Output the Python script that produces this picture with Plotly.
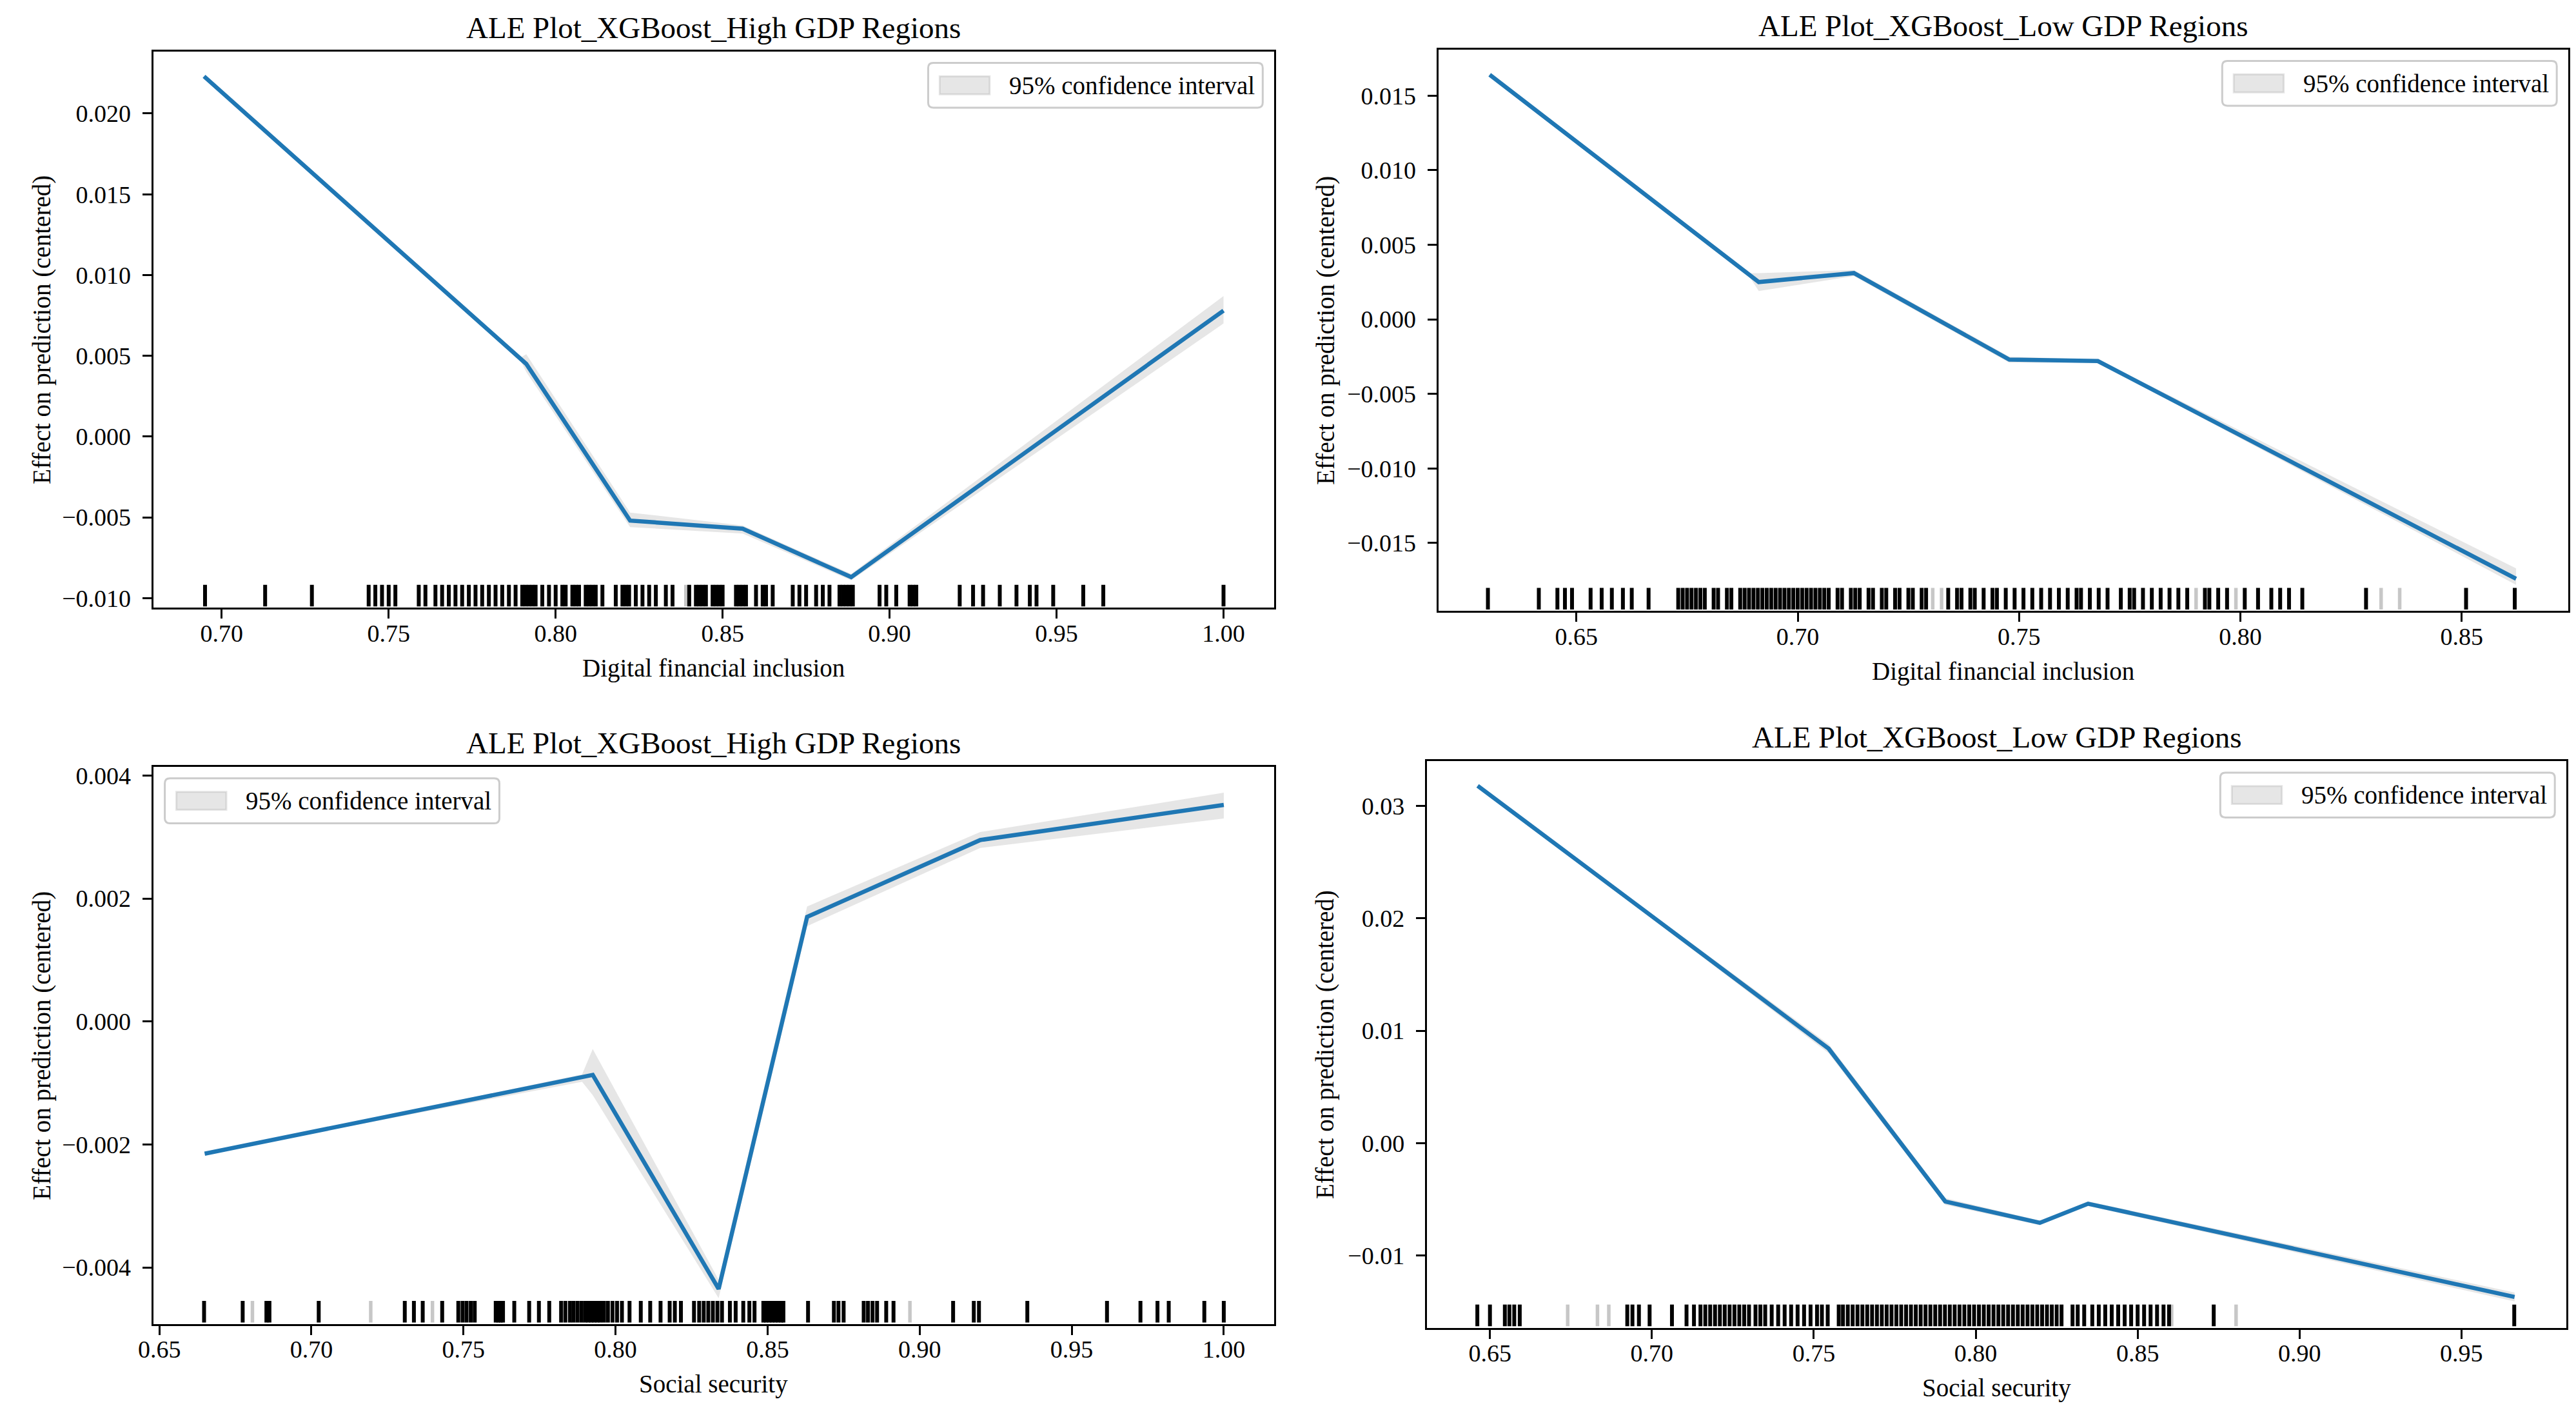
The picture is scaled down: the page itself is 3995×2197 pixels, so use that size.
import plotly.graph_objects as go

W, H = 3995, 2197
FONT = "Liberation Serif, Times New Roman, Times, serif"

# ------------------------------------------------------------------ data
title_high = "ALE Plot_XGBoost_High GDP Regions"
title_low = "ALE Plot_XGBoost_Low GDP Regions"
label_dfi = "Digital financial inclusion"
label_ss = "Social security"
y_label = "Effect on prediction (centered)"
legend_label = "95% confidence interval"

# Panel 1: High GDP, Digital financial inclusion
dfi_high_x = [0.6947, 0.7895, 0.7912, 0.8223, 0.8560, 0.8885, 1.0000]
dfi_high_ale = [0.0223, 0.0048, 0.0045, -0.0052, -0.0057, -0.0087, 0.0078]
dfi_high_lo = [0.0223, 0.0047, 0.0040, -0.0056, -0.0060, -0.0089, 0.0070]
dfi_high_hi = [0.0223, 0.0049, 0.0051, -0.0047, -0.0055, -0.0085, 0.0087]
dfi_high_rug = [0.695, 0.713, 0.727, 0.744, 0.746, 0.748, 0.750, 0.752, 0.759, 0.761,
                0.764, 0.766, 0.768, 0.770, 0.772, 0.774, 0.776, 0.778, 0.780, 0.782,
                0.784, 0.786, 0.788, 0.790, 0.791, 0.792, 0.793, 0.794, 0.796, 0.798,
                0.800, 0.802, 0.803, 0.805, 0.806, 0.807, 0.809, 0.810, 0.811, 0.812,
                0.814, 0.818, 0.820, 0.821, 0.822, 0.824, 0.826, 0.828, 0.830, 0.833,
                0.835, 0.840, 0.842, 0.843, 0.844, 0.845, 0.847, 0.848, 0.849, 0.850,
                0.854, 0.855, 0.856, 0.857, 0.860, 0.862, 0.863, 0.865, 0.871, 0.873,
                0.875, 0.878, 0.880, 0.882, 0.885, 0.886, 0.887, 0.888, 0.889, 0.897,
                0.899, 0.902, 0.906, 0.907, 0.908, 0.921, 0.925, 0.928, 0.933, 0.938,
                0.942, 0.944, 0.949, 0.958, 0.964, 1.000]
dfi_high_rug_light = [0.839]

# Panel 2: Low GDP, Digital financial inclusion
dfi_low_x = [0.6304, 0.6890, 0.6912, 0.7127, 0.7478, 0.7678, 0.8623]
dfi_low_ale = [0.0164, 0.0030, 0.0025, 0.0031, -0.0027, -0.0028, -0.0174]
dfi_low_lo = [0.0164, 0.0029, 0.0019, 0.0029, -0.0029, -0.0029, -0.0178]
dfi_low_hi = [0.0164, 0.0031, 0.0031, 0.0033, -0.0025, -0.0027, -0.0167]
dfi_low_rug = [0.630, 0.6415, 0.6457, 0.6474, 0.649, 0.6532, 0.6557, 0.6580, 0.6605, 0.6625,
               0.6663, 0.673, 0.674, 0.675, 0.676, 0.677, 0.678, 0.679, 0.681, 0.682,
               0.684, 0.685, 0.687, 0.688, 0.689, 0.690, 0.691, 0.692, 0.693, 0.694,
               0.695, 0.696, 0.697, 0.698, 0.699, 0.700, 0.701, 0.702, 0.703, 0.704,
               0.705, 0.706, 0.707, 0.709, 0.710, 0.712, 0.713, 0.714, 0.716, 0.717,
               0.719, 0.720, 0.722, 0.723, 0.725, 0.726, 0.728, 0.729, 0.734, 0.736,
               0.737, 0.739, 0.740, 0.742, 0.744, 0.745, 0.747, 0.749, 0.751, 0.753,
               0.755, 0.757, 0.759, 0.761, 0.763, 0.764, 0.766, 0.768, 0.770, 0.773,
               0.775, 0.776, 0.778, 0.780, 0.782, 0.784, 0.786, 0.788, 0.792, 0.793,
               0.795, 0.797, 0.801, 0.804, 0.807, 0.809, 0.811, 0.814, 0.8284, 0.851,
               0.862]
dfi_low_rug_light = [0.7305, 0.7325, 0.790, 0.799, 0.8318, 0.836]

# Panel 3: High GDP, Social security
ss_high_x = [0.6649, 0.7890, 0.7925, 0.8339, 0.8630, 0.9199, 1.0000]
ss_high_ale = [-0.00215, -0.00092, -0.00087, -0.00435, 0.00170, 0.00295, 0.00352]
ss_high_lo = [-0.00215, -0.00098, -0.00120, -0.00450, 0.00155, 0.00282, 0.00330]
ss_high_hi = [-0.00215, -0.00086, -0.00045, -0.00420, 0.00187, 0.00308, 0.00372]
ss_high_rug = [0.6647, 0.6774, 0.6852, 0.6862, 0.7024, 0.7307, 0.7337, 0.7366, 0.7430, 0.7483,
               0.7497, 0.7510, 0.7524, 0.7537, 0.7606, 0.7615, 0.7622, 0.7630, 0.7667, 0.7716,
               0.7748, 0.7782, 0.7821, 0.7835, 0.7850, 0.7862, 0.7875, 0.7888, 0.7900, 0.7910,
               0.7920, 0.7930, 0.7940, 0.7950, 0.7962, 0.7975, 0.7990, 0.8005, 0.8021, 0.8046,
               0.8083, 0.8114, 0.8148, 0.8178, 0.8195, 0.8215, 0.8258, 0.8275, 0.8290, 0.8305,
               0.8320, 0.8335, 0.8350, 0.8376, 0.8395, 0.8420, 0.8440, 0.8457, 0.8486, 0.8495,
               0.8505, 0.8515, 0.8525, 0.8535, 0.8545, 0.8552, 0.8633, 0.8718, 0.8733, 0.8750,
               0.8816, 0.8830, 0.8845, 0.8860, 0.8890, 0.8914, 0.9110, 0.9178, 0.9195, 0.9354,
               0.9616, 0.9726, 0.9782, 0.9819, 0.9936, 1.0000]
ss_high_rug_light = [0.6806, 0.7195, 0.7398, 0.8968]

# Panel 4: Low GDP, Social security
ss_low_x = [0.6462, 0.7546, 0.7906, 0.8198, 0.8347, 0.9664]
ss_low_ale = [0.0318, 0.0084, -0.0052, -0.0071, -0.0054, -0.0137]
ss_low_lo = [0.0318, 0.0080, -0.0055, -0.0073, -0.0056, -0.0141]
ss_low_hi = [0.0318, 0.0088, -0.0049, -0.0069, -0.0052, -0.0133]
ss_low_rug = [0.6461, 0.6500, 0.6546, 0.6560, 0.6575, 0.6592, 0.6924, 0.6940, 0.6960, 0.6993,
              0.7062, 0.7107, 0.7130, 0.7150, 0.7165, 0.7180, 0.7195, 0.7210, 0.7225, 0.7240,
              0.7255, 0.7270, 0.7285, 0.7300, 0.7320, 0.7335, 0.7350, 0.7370, 0.7390, 0.7410,
              0.7430, 0.7450, 0.7470, 0.7490, 0.7510, 0.7525, 0.7543, 0.7577, 0.7590, 0.7605,
              0.7620, 0.7635, 0.7650, 0.7665, 0.7680, 0.7695, 0.7710, 0.7725, 0.7740, 0.7755,
              0.7770, 0.7785, 0.7800, 0.7815, 0.7830, 0.7845, 0.7860, 0.7875, 0.7890, 0.7905,
              0.7920, 0.7935, 0.7950, 0.7965, 0.7980, 0.7995, 0.8010, 0.8025, 0.8040, 0.8055,
              0.8070, 0.8085, 0.8100, 0.8115, 0.8130, 0.8145, 0.8160, 0.8175, 0.8190, 0.8205,
              0.8220, 0.8235, 0.8250, 0.8265, 0.8299, 0.8315, 0.8335, 0.8360, 0.8380, 0.8400,
              0.8420, 0.8440, 0.8460, 0.8480, 0.8500, 0.8520, 0.8540, 0.8560, 0.8580, 0.8597,
              0.8735, 0.9663]
ss_low_rug_light = [0.6740, 0.6832, 0.6867, 0.8605, 0.8804]

# tick values
ticks_x_dfi_high = [0.70, 0.75, 0.80, 0.85, 0.90, 0.95, 1.00]
ticks_y_dfi_high = [-0.010, -0.005, 0.000, 0.005, 0.010, 0.015, 0.020]
ticks_x_dfi_low = [0.65, 0.70, 0.75, 0.80, 0.85]
ticks_y_dfi_low = [-0.015, -0.010, -0.005, 0.000, 0.005, 0.010, 0.015]
ticks_x_ss_high = [0.65, 0.70, 0.75, 0.80, 0.85, 0.90, 0.95, 1.00]
ticks_y_ss_high = [-0.004, -0.002, 0.000, 0.002, 0.004]
ticks_x_ss_low = [0.65, 0.70, 0.75, 0.80, 0.85, 0.90, 0.95]
ticks_y_ss_low = [-0.01, 0.00, 0.01, 0.02, 0.03]

# ------------------------------------------------------------------ layout config
panels = [
    dict(x=dfi_high_x, y=dfi_high_ale, lo=dfi_high_lo, hi=dfi_high_hi,
         rug=dfi_high_rug, rug_light=dfi_high_rug_light, title=title_high, xlabel=label_dfi,
         xt=ticks_x_dfi_high, yt=ticks_y_dfi_high, yfmt=".3f",
         xr=[0.6795, 1.0152], yr=[-0.0106, 0.02385],
         box=(215, 1964, 73, 941), leg="right"),
    dict(x=dfi_low_x, y=dfi_low_ale, lo=dfi_low_lo, hi=dfi_low_hi,
         rug=dfi_low_rug, rug_light=dfi_low_rug_light, title=title_low, xlabel=label_dfi,
         xt=ticks_x_dfi_low, yt=ticks_y_dfi_low, yfmt=".3f",
         xr=[0.6188, 0.8741], yr=[-0.01956, 0.0181],
         box=(2220, 3983, 70, 946), leg="right"),
    dict(x=ss_high_x, y=ss_high_ale, lo=ss_high_lo, hi=ss_high_hi,
         rug=ss_high_rug, rug_light=ss_high_rug_light, title=title_high, xlabel=label_ss,
         xt=ticks_x_ss_high, yt=ticks_y_ss_high, yfmt=".3f",
         xr=[0.648, 1.0166], yr=[-0.00492, 0.00414],
         box=(215, 1964, 1189, 2058), leg="left"),
    dict(x=ss_low_x, y=ss_low_ale, lo=ss_low_lo, hi=ss_low_hi,
         rug=ss_low_rug, rug_light=ss_low_rug_light, title=title_low, xlabel=label_ss,
         xt=ticks_x_ss_low, yt=ticks_y_ss_low, yfmt=".2f",
         xr=[0.6305, 0.9824], yr=[-0.01645, 0.034],
         box=(2202, 3980, 1180, 2064), leg="right"),
]
ylabel_px = [41, 2044, 41, 2044]


def px(v):
    return v / W


def py(v):
    return 1 - v / H


fig = go.Figure()
shapes = []
annotations = []
BLUE = "#1f77b4"
CI_FILL = "rgba(128,128,128,0.2)"

for i, p in enumerate(panels):
    n = "" if i == 0 else str(i + 1)
    xa, ya = "x" + n, "y" + n
    x0, x1, y0, y1 = p["box"]

    # confidence band
    fig.add_trace(go.Scatter(x=p["x"], y=p["lo"], mode="lines", line=dict(width=0, color=CI_FILL),
                             hoverinfo="skip", showlegend=False, xaxis=xa, yaxis=ya))
    fig.add_trace(go.Scatter(x=p["x"], y=p["hi"], mode="lines", fill="tonexty", fillcolor=CI_FILL,
                             line=dict(width=0, color=CI_FILL), name=legend_label,
                             showlegend=False, xaxis=xa, yaxis=ya))
    # ALE line
    fig.add_trace(go.Scatter(x=p["x"], y=p["y"], mode="lines", line=dict(color=BLUE, width=6.5),
                             name="ALE", showlegend=False, xaxis=xa, yaxis=ya))
    # rug at bottom of axis
    ymin, ymax = p["yr"]
    rug_y = ymin + 0.022 * (ymax - ymin)
    fig.add_trace(go.Scatter(x=p["rug_light"], y=[rug_y] * len(p["rug_light"]), mode="markers",
                             marker=dict(symbol="line-ns", size=24,
                                         line=dict(width=5.5, color="rgba(0,0,0,0.22)")),
                             hoverinfo="x", showlegend=False, xaxis=xa, yaxis=ya))
    fig.add_trace(go.Scatter(x=p["rug"], y=[rug_y] * len(p["rug"]), mode="markers",
                             marker=dict(symbol="line-ns", size=24,
                                         line=dict(width=6, color="black")),
                             hoverinfo="x", showlegend=False, xaxis=xa, yaxis=ya))

    axis_common = dict(showline=True, linecolor="black", linewidth=3, mirror=True,
                       ticks="outside", ticklen=14, tickwidth=3, tickcolor="black",
                       showgrid=False, zeroline=False,
                       tickfont=dict(family=FONT, size=38, color="black"))
    fig.layout["xaxis" + n] = dict(domain=[px(x0), px(x1)], range=p["xr"], anchor=ya,
                                   tickvals=p["xt"], tickformat=".2f", ticklabelstandoff=-10,
                                   **axis_common)
    fig.layout["yaxis" + n] = dict(domain=[py(y1), py(y0)], range=p["yr"], anchor=xa,
                                   tickvals=p["yt"], tickformat=p["yfmt"], ticklabelstandoff=10,
                                   **axis_common)

    # titles
    annotations.append(dict(text=p["title"], x=px((x0 + x1) / 2), y=py(y0 - 37), xref="paper",
                            yref="paper", xanchor="center", yanchor="middle", showarrow=False,
                            font=dict(family=FONT, size=47, color="black")))
    annotations.append(dict(text=p["xlabel"], x=px((x0 + x1) / 2), y=py(y1 + 94), xref="paper",
                            yref="paper", xanchor="center", yanchor="middle", showarrow=False,
                            font=dict(family=FONT, size=39, color="black")))
    annotations.append(dict(text=y_label, x=px(ylabel_px[i]), y=py((y0 + y1) / 2), xref="paper",
                            yref="paper", xanchor="center", yanchor="middle", showarrow=False,
                            textangle=-90, font=dict(family=FONT, size=39, color="black")))

    # legend box (matplotlib style)
    lw, lh, inset = 522, 70, 18
    if p["leg"] == "right":
        lx1 = x1 - inset
        lx0 = lx1 - lw
    else:
        lx0 = x0 + inset
        lx1 = lx0 + lw
    ly0 = y0 + inset
    ly1 = ly0 + lh
    r = 8
    pts = [("M", lx0 + r, ly0), ("L", lx1 - r, ly0), ("Q", lx1, ly0, lx1, ly0 + r),
           ("L", lx1, ly1 - r), ("Q", lx1, ly1, lx1 - r, ly1), ("L", lx0 + r, ly1),
           ("Q", lx0, ly1, lx0, ly1 - r), ("L", lx0, ly0 + r), ("Q", lx0, ly0, lx0 + r, ly0)]
    path = ""
    for seg in pts:
        cmd = seg[0]
        coords = seg[1:]
        parts = []
        for k in range(0, len(coords), 2):
            parts.append("%.6f,%.6f" % (px(coords[k]), py(coords[k + 1])))
        path += cmd + " ".join(parts) + " "
    path += "Z"
    shapes.append(dict(type="path", path=path, xref="paper", yref="paper",
                       fillcolor="rgba(255,255,255,0.8)", line=dict(color="#cccccc", width=3)))
    hx0 = lx0 + 18
    hx1 = hx0 + 78
    cy = (ly0 + ly1) / 2
    shapes.append(dict(type="rect", xref="paper", yref="paper", x0=px(hx0), x1=px(hx1),
                       y0=py(cy + 14), y1=py(cy - 14), fillcolor=CI_FILL,
                       line=dict(color=CI_FILL, width=3)))
    annotations.append(dict(text=legend_label, x=px(hx1 + 28), y=py(cy), xref="paper", yref="paper",
                            xanchor="left", yanchor="middle", showarrow=False,
                            font=dict(family=FONT, size=39, color="black")))

fig.update_layout(width=W, height=H, margin=dict(l=0, r=0, t=0, b=0),
                  paper_bgcolor="white", plot_bgcolor="white",
                  showlegend=False, shapes=shapes, annotations=annotations,
                  font=dict(family=FONT, size=38, color="black"))

fig.write_html("out.html", config={"displayModeBar": False},
               post_script="document.body.style.margin='0';document.body.style.overflow='hidden';")
